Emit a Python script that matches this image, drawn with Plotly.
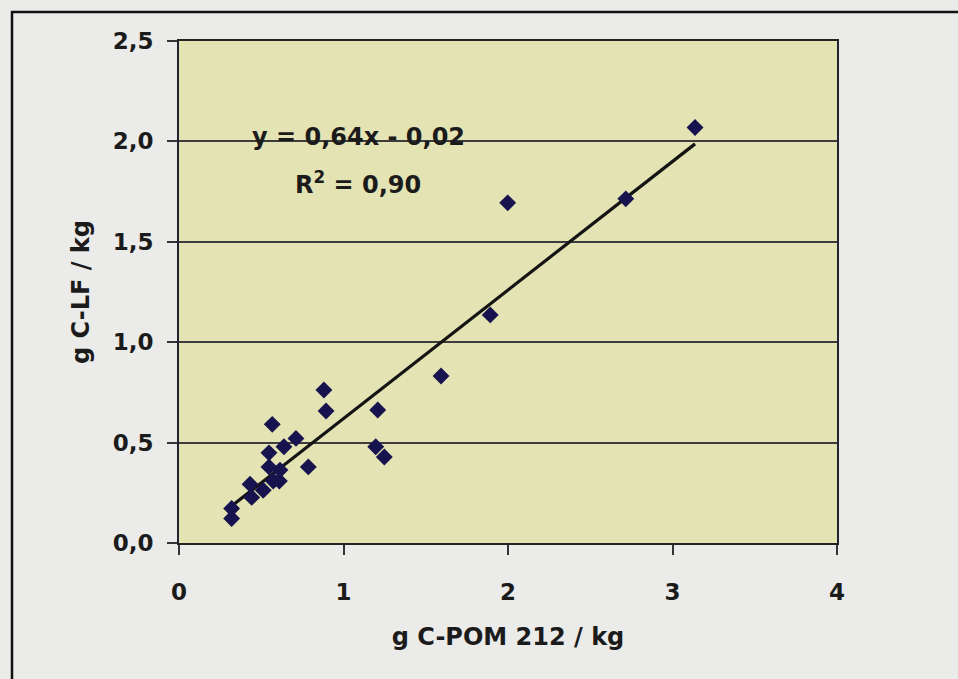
import plotly.graph_objects as go

# Data (g C-POM 212 / kg vs g C-LF / kg)
pom_x = [0.320, 0.320, 0.442, 0.432, 0.512, 0.573, 0.610, 0.614, 0.547, 0.547,
         0.638, 0.711, 0.567, 0.786, 0.881, 0.894, 1.208, 1.196, 1.248, 1.593,
         1.892, 1.998, 2.716, 3.137]
lf_y = [0.122, 0.172, 0.227, 0.293, 0.263, 0.309, 0.309, 0.363, 0.379, 0.449,
        0.479, 0.521, 0.591, 0.379, 0.762, 0.657, 0.662, 0.479, 0.428, 0.832,
        1.136, 1.694, 1.714, 2.069]

slope = 0.64
intercept = -0.02
eq_text = "y = 0,64x - 0,02"
r2_text = "R<sup>2</sup> = 0,90"

x_ticks = [0, 1, 2, 3, 4]
x_ticktext = ["0", "1", "2", "3", "4"]
y_ticks = [0.0, 0.5, 1.0, 1.5, 2.0, 2.5]
y_ticktext = ["0,0", "0,5", "1,0", "1,5", "2,0", "2,5"]

font_family = "DejaVu Sans"
font_color = "#1b1b1b"
tick_font = dict(family=font_family, size=23, color=font_color, weight="bold")
title_font = dict(family=font_family, size=24, color=font_color, weight="bold")

fig = go.Figure()

fit_x = [min(pom_x), max(pom_x)]
fit_y = [slope * v + intercept for v in fit_x]
fig.add_trace(go.Scatter(x=fit_x, y=fit_y, mode="lines",
                         line=dict(color="#141414", width=3.2),
                         hoverinfo="skip", showlegend=False))

fig.add_trace(go.Scatter(x=pom_x, y=lf_y, mode="markers",
                         marker=dict(symbol="diamond", size=13, color="#17134f",
                                     line=dict(width=0)),
                         showlegend=False))

fig.add_annotation(x=1.09, y=2.024, xref="x", yref="y", text=eq_text,
                   showarrow=False, font=dict(family=font_family, size=24, color=font_color, weight="bold"))
fig.add_annotation(x=1.09, y=1.795, xref="x", yref="y", text=r2_text,
                   showarrow=False, font=dict(family=font_family, size=24, color=font_color, weight="bold"))

# outer frame (left and top edges visible; right/bottom run off the picture)
fig.add_shape(type="rect", xref="paper", yref="paper",
              x0=-0.2538, x1=1.4, y0=-0.5, y1=1.0578,
              line=dict(color="#111111", width=2.5), layer="below")

fig.update_layout(
    width=958, height=679,
    margin=dict(l=179, r=121, t=41, b=136),
    paper_bgcolor="#ebebe9",
    plot_bgcolor="#e4e3b3",
    font=dict(family=font_family, size=23, color=font_color, weight="bold"),
    showlegend=False,
)

fig.update_xaxes(
    range=[0, 4], tickvals=x_ticks, ticktext=x_ticktext,
    showgrid=False, zeroline=False,
    showline=True, linecolor="#222222", linewidth=2, mirror=True,
    ticks="outside", ticklen=10, tickcolor="#333333", tickwidth=1.5,
    ticklabelstandoff=17,
    tickfont=tick_font,
    title=dict(text="g C-POM 212 / kg", standoff=25, font=title_font),
)
fig.update_yaxes(
    range=[0, 2.5], tickvals=y_ticks, ticktext=y_ticktext,
    showgrid=True, gridcolor="#3c3c3c", gridwidth=1.5, zeroline=False,
    showline=True, linecolor="#222233", linewidth=2, mirror=True,
    ticks="outside", ticklen=10, tickcolor="#333333", tickwidth=1.5,
    ticklabelstandoff=9,
    tickfont=tick_font,
    title=dict(text="g C-LF / kg", standoff=16, font=title_font),
)

fig.write_html(
    "out.html",
    config={"displayModeBar": False},
    post_script="document.body.style.margin='0';document.body.style.overflow='hidden';",
)
